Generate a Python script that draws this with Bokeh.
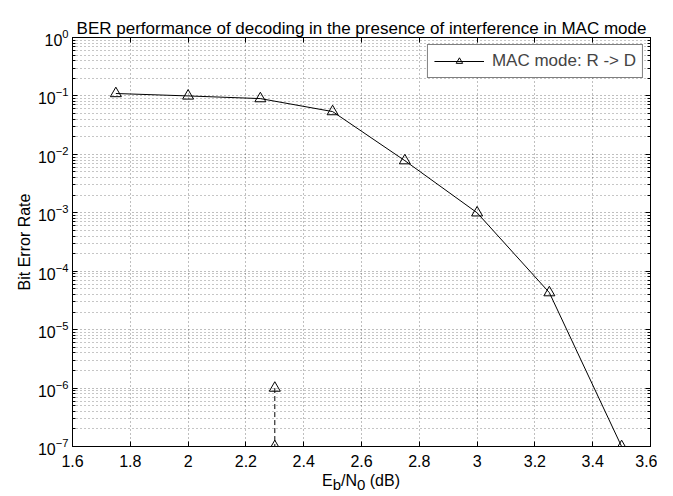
from bokeh.plotting import figure
from bokeh.layouts import column
from bokeh.models import (FixedTicker, LinearAxis, LogAxis, CustomJSTickFormatter,
                          Legend, LegendItem, Div)
from bokeh.embed import file_html
from bokeh.resources import INLINE

# ---- data ----
ebn0 = [1.75, 2.0, 2.25, 2.5, 2.75, 3.0, 3.25, 3.5]
ber = [0.11, 0.10, 0.09, 0.054, 0.0078, 0.001, 4.3e-5, 1e-7]
extra_x = [2.3, 2.3]
extra_y = [1e-6, 1e-7]

x_ticks = [1.6, 1.8, 2.0, 2.2, 2.4, 2.6, 2.8, 3.0, 3.2, 3.4, 3.6]
x_tick_labels = ["1.6", "1.8", "2", "2.2", "2.4", "2.6", "2.8", "3", "3.2", "3.4", "3.6"]
y_exponents = [-7, -6, -5, -4, -3, -2, -1, 0]
y_mantissas = [2, 3, 4, 5, 6, 7, 8, 9]

title_text = "BER performance of decoding in the presence of interference in MAC mode"
legend_text = "MAC mode: R -> D"
y_label = "Bit Error Rate"
x_label_main = ["E", "/N", " (dB)"]
x_label_subs = ["b", "0"]

FONT = "Liberation Sans"
FS = "16px"

y_major = [10.0 ** e for e in y_exponents]
y_minor = [m * 10.0 ** e for e in y_exponents[:-1] for m in y_mantissas]

p = figure(width=657, height=473, x_range=(1.6, 3.6), y_range=(1e-7, 1),
           y_axis_type="log", output_backend="svg", toolbar_location=None,
           min_border_left=72, min_border_right=7, min_border_top=37,
           min_border_bottom=27)

p.title.text = title_text
p.title.align = "center"
p.title.text_font = FONT
p.title.text_font_size = "17px"
p.title.text_font_style = "normal"
p.title.text_color = "black"
p.title.text_line_height = 1.0
p.title.standoff = 0

p.outline_line_color = "black"
p.outline_line_width = 1
p.background_fill_color = "white"
p.border_fill_color = "white"

# x axis
xt = FixedTicker(ticks=x_ticks, minor_ticks=[])
p.xaxis.ticker = xt
p.xaxis.major_label_overrides = dict(zip(x_ticks, x_tick_labels))
# y axis
yt = FixedTicker(ticks=y_major, minor_ticks=y_minor)
p.yaxis.ticker = yt
p.yaxis.axis_label = y_label

for ax in (p.xaxis[0], p.yaxis[0]):
    ax.major_label_text_font = FONT
    ax.major_label_text_font_size = FS
    ax.major_label_text_color = "black"
    ax.axis_label_text_font = FONT
    ax.axis_label_text_font_size = FS
    ax.axis_label_text_font_style = "normal"
    ax.axis_label_text_color = "black"
    ax.axis_line_color = "black"
    ax.major_tick_line_color = "black"
    ax.major_tick_in = 5
    ax.major_tick_out = 0
    ax.minor_tick_in = 3
    ax.minor_tick_out = 0

p.xaxis.major_label_standoff = 8
p.xaxis.minor_tick_line_color = None
p.yaxis.axis_label_standoff = 2
p.yaxis.major_label_standoff = 4

# mirrored axes (ticks only)
top = LinearAxis(ticker=xt, formatter=CustomJSTickFormatter(code="return ''"),
                 major_tick_in=5, major_tick_out=0,
                 minor_tick_line_color=None, axis_line_color="black",
                 major_label_standoff=0, major_label_text_font_size="0px")
right = LogAxis(ticker=yt, formatter=CustomJSTickFormatter(code="return ''"),
                major_tick_in=5, major_tick_out=0, minor_tick_in=3, minor_tick_out=0,
                axis_line_color="black", major_label_standoff=0,
                major_label_text_font_size="0px")
p.add_layout(top, "above")
p.add_layout(right, "right")

# grids
for g in (p.xgrid[0], p.ygrid[0]):
    g.grid_line_color = "black"
    g.grid_line_alpha = 0.5
    g.grid_line_dash = "1 3"
p.ygrid.minor_grid_line_color = "black"
p.ygrid.minor_grid_line_alpha = 0.45
p.ygrid.minor_grid_line_dash = "1 3"

# data
ln = p.line(ebn0, ber, line_color="black", line_width=1)
mk = p.scatter(ebn0, ber, marker="triangle", size=11, line_color="black",
               fill_color=None, line_width=1)
p.line(extra_x, extra_y, line_color="black", line_width=1, line_dash="5 3")
p.scatter(extra_x, extra_y, marker="triangle", size=11, line_color="black",
          fill_color=None, line_width=1)

legend = Legend(items=[LegendItem(label=legend_text, renderers=[ln, mk])],
                location="top_right", border_line_color="black", border_line_width=1,
                background_fill_color="white", background_fill_alpha=1.0,
                label_text_font=FONT, label_text_font_size="17px",
                glyph_width=50, glyph_height=16, label_height=16,
                label_standoff=8, padding=6, margin=7, spacing=0)
p.add_layout(legend, "center")

# x axis label with subscripts (HTML below the figure)
sub_style = "font-size:15px;vertical-align:-4px;line-height:0;"
label_html = (
    f"<div style=\"font-family:'{FONT}',Arial,sans-serif;font-size:16px;width:578px;"
    "display:block;position:relative;top:0px;line-height:15px;text-align:center;"
    "color:black;white-space:nowrap;\">"
    f"{x_label_main[0]}<span style=\"{sub_style}\">{x_label_subs[0]}</span>"
    f"{x_label_main[1]}<span style=\"{sub_style}\">{x_label_subs[1]}</span>"
    f"{x_label_main[2]}</div>"
)
xlabel = Div(text=label_html, width=578, height=7, margin=(0, 0, 0, 72),
             styles={"text-align": "center", "width": "578px", "overflow": "visible"})

layout = column(p, xlabel, spacing=0)

open("out.html", "w").write(file_html(layout, INLINE))
